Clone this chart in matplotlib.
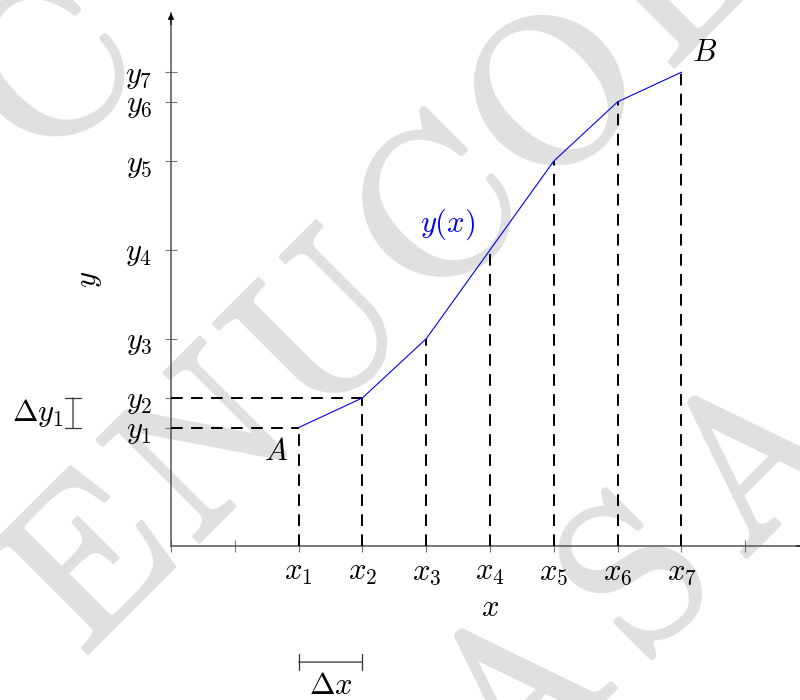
import matplotlib
matplotlib.use("Agg")
import matplotlib.pyplot as plt
import matplotlib.patheffects as pe

plt.rcParams["mathtext.fontset"] = "cm"

# sample points of y(x)
x_pts = [2, 3, 4, 5, 6, 7, 8]
y_pts = [2, 2.5, 3.5, 5, 6.5, 7.5, 8]
x_names = [f"$x_{i}$" for i in range(1, 8)]
y_names = [f"$y_{i}$" for i in range(1, 8)]

x_ticks = list(range(10))
x_tick_labels = ["", ""] + x_names + [""]

# background stamp: letters of each line, centre of the first letter in px
stamp_lines = [("C", 45, 65), ("ENUCOL", 82, 555), ("ASA", 513, 687)]
stamp_step = 116.5  # px between letter centres, along x and up

W, H = 800, 700
fig = plt.figure(figsize=(8, 7), dpi=100)
fig.patch.set_facecolor("white")

stamp_fx = [pe.withStroke(linewidth=2.5, foreground="#e0e0e0")]
for word, x0, y0 in stamp_lines:
    for k, ch in enumerate(word):
        cx, cy = x0 + k * stamp_step, y0 - k * stamp_step
        fig.text(cx / W, 1 - cy / H, ch, family="cmr10", fontsize=152,
                 color="#e0e0e0", rotation=45, rotation_mode="anchor",
                 ha="center", va="center_baseline", zorder=0,
                 path_effects=stamp_fx)

ax = fig.add_axes([171 / W, 1 - 546 / H, 638 / W, 533 / H])
ax.set_zorder(1)
ax.patch.set_visible(False)
ax.set_xlim(0, 10)
ax.set_ylim(0, 9)
for s in ax.spines.values():
    s.set_visible(False)

# axis lines with arrow heads
ax.plot([0, 10], [0, 0], color="#555555", lw=1.1, clip_on=False, zorder=2)
ax.plot([0, 0], [0, 9], color="#555555", lw=1.1, clip_on=False, zorder=2)
ax.annotate("", xy=(0, 9), xytext=(0, 8.8), annotation_clip=False,
            arrowprops=dict(arrowstyle="-|>", color="black", lw=0.8,
                            mutation_scale=9, shrinkA=0, shrinkB=0))
ax.annotate("", xy=(10, 0), xytext=(9.8, 0), annotation_clip=False,
            arrowprops=dict(arrowstyle="-|>", color="black", lw=0.8,
                            mutation_scale=9, shrinkA=0, shrinkB=0))

ax.set_xticks(x_ticks)
ax.set_xticklabels(x_tick_labels)
ax.set_yticks(y_pts)
ax.set_yticklabels(y_names)
ax.tick_params(axis="both", direction="inout", length=9, width=0.8,
               color="#777777", labelsize=22)
ax.tick_params(axis="x", pad=4)
ax.tick_params(axis="y", pad=9)

# guides down to the axis and across for the first step
dash = (0, (6.0, 4.3))
ax.vlines(x_pts, 0, y_pts, colors="black", lw=1.4, linestyles=[dash], zorder=3)
ax.hlines(y_pts[:2], 0, x_pts[:2], colors="black", lw=1.4, linestyles=[dash], zorder=3)

ax.plot(x_pts, y_pts, color="blue", lw=0.8, zorder=4)

ax.annotate("$A$", xy=(x_pts[0], y_pts[0]), xytext=(-16, -17),
            textcoords="offset points", ha="center", va="center", fontsize=22)
ax.annotate("$B$", xy=(x_pts[-1], y_pts[-1]), xytext=(17, 14),
            textcoords="offset points", ha="center", va="center", fontsize=22)
ax.text(4.33, 5.44, "$y(x)$", color="blue", ha="center", va="center", fontsize=22)

# step sizes
bar = dict(arrowstyle="|-|,widthA=0.55,widthB=0.55", color="#333333",
           lw=0.9, shrinkA=0, shrinkB=0)
xb = -1.536
ax.annotate("", xy=(xb, y_pts[0]), xytext=(xb, y_pts[1]), annotation_clip=False,
            arrowprops=bar)
ax.text(-1.69, (y_pts[0] + y_pts[1]) / 2, r"$\Delta y_1$", ha="right", va="center",
        fontsize=22, clip_on=False)

yb = -1.96
ax.annotate("", xy=(x_pts[0], yb), xytext=(x_pts[1], yb), annotation_clip=False,
            arrowprops=bar)
ax.text((x_pts[0] + x_pts[1]) / 2, -2.36, r"$\Delta x$", ha="center", va="center",
        fontsize=22, clip_on=False)

ax.set_xlabel("$x$", fontsize=22)
ax.set_ylabel("$y$", fontsize=22)
ax.xaxis.label.set_va("center")
ax.xaxis.set_label_coords(0.5, (546 - 607) / 533)
ax.yaxis.label.set_va("center")
ax.yaxis.set_label_coords((90 - 171) / 638, 0.5)

fig.savefig("out.png", dpi=100)
